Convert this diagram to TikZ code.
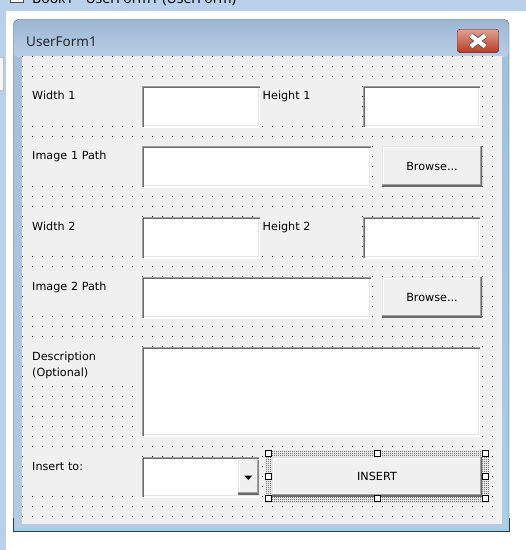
\documentclass[tikz,border=0pt]{standalone}
\usepackage{fontspec}
\setmainfont{DejaVu Sans}
\newfontfamily\captionfont{Noto Sans}
\usetikzlibrary{patterns}

\definecolor{deskblue}{HTML}{B9D1EA}
\definecolor{framebg}{HTML}{B4CBE4}
\definecolor{frametop}{HTML}{A3BCD8}
\definecolor{frameedge}{HTML}{2E3A46}
\definecolor{titletop}{HTML}{9CB6D3}
\definecolor{titlebot}{HTML}{B9CFE7}
\definecolor{formbg}{HTML}{F0F0F0}
\definecolor{shadowgray}{HTML}{A0A0A0}
\definecolor{darkgray}{HTML}{696969}
\definecolor{lightgray}{HTML}{E3E3E3}
\definecolor{closetop}{HTML}{E0A192}
\definecolor{closemid}{HTML}{CC6650}
\definecolor{closebot}{HTML}{B83A22}
\definecolor{closeedge}{HTML}{5E2218}
\definecolor{glowcyan}{HTML}{7FD8F0}

\pgfdeclarepatternformonly{selhatch}{\pgfpointorigin}{\pgfpoint{2pt}{2pt}}{\pgfpoint{2pt}{2pt}}{%
  \pgfpathrectangle{\pgfpointorigin}{\pgfpoint{1pt}{1pt}}%
  \pgfpathrectangle{\pgfpoint{1pt}{1pt}}{\pgfpoint{1pt}{1pt}}%
  \pgfusepath{fill}}

\begin{document}
\begin{tikzpicture}[x=1pt,y=-1pt,
    font=\fontsize{11.2}{16.5}\selectfont,
    lbl/.style={anchor=north west, fill=formbg, inner xsep=2pt, inner ysep=0pt,
      text width=#1, text height=17pt, text depth=23pt, align=left},
    lbl/.default=106pt,
    tbox/.style 2 args={anchor=north west, fill=white, inner sep=0pt, outer sep=0pt,
      minimum width=#1, minimum height=#2,
      path picture={
        \draw[line width=4pt, lightgray] (path picture bounding box.north east) -- (path picture bounding box.south east) -- (path picture bounding box.south west);
        \draw[line width=2pt, white] (path picture bounding box.north east) -- (path picture bounding box.south east) -- (path picture bounding box.south west);
        \draw[line width=4pt, darkgray] (path picture bounding box.south west) -- (path picture bounding box.north west) -- (path picture bounding box.north east);
        \draw[line width=2pt, shadowgray] (path picture bounding box.south west) -- (path picture bounding box.north west) -- (path picture bounding box.north east);
      }},
    rbtn/.style 2 args={anchor=north west, fill=formbg, inner sep=0pt, outer sep=0pt,
      minimum width=#1, minimum height=#2,
      path picture={
        \draw[line width=4pt, white] (path picture bounding box.south west) -- (path picture bounding box.north west) -- (path picture bounding box.north east);
        \draw[line width=2pt, lightgray] (path picture bounding box.south west) -- (path picture bounding box.north west) -- (path picture bounding box.north east);
        \draw[line width=4pt, shadowgray] (path picture bounding box.north east) -- (path picture bounding box.south east) -- (path picture bounding box.south west);
        \draw[line width=2pt, darkgray] (path picture bounding box.north east) -- (path picture bounding box.south east) -- (path picture bounding box.south west);
      }},
    handle/.style={draw=black, fill=white, line width=1pt, minimum size=6pt, inner sep=0pt}]

  \useasboundingbox (0,0) rectangle (526,550);

  %DESKTOP
  \fill[deskblue] (0,0) rectangle (526,550);
  \fill[white] (6,11) rectangle (526,550);
  \filldraw[fill=white!94!gray, draw=gray!50] (-1,57.5) rectangle (3.5,90.5);
  \filldraw[fill=white, draw=black!70] (10.5,-6) rectangle (23,2);
  \node[anchor=base west, inner sep=0pt, font=\captionfont\fontsize{14}{16}\selectfont] (apptitle) at (32,3.3) {Book1 - UserForm1 (UserForm)};

  %WINDOW FRAME
  \shade[top color=frametop, bottom color=framebg, draw=frameedge, rounded corners=5pt]
    (13.5,531) -- (13.5,19.5) -- (509,19.5) -- (509,531) -- cycle;
  \filldraw[fill=framebg, draw=frameedge] (13.5,518) -- (13.5,531) -- (509,531) -- (509,518);
  \draw[glowcyan] (14.5,529.5) -- (507.5,529.5) -- (507.5,24);
  \shade[top color=titletop, bottom color=titlebot, rounded corners=4pt] (14,20) rectangle (508.5,57);
  \node[anchor=base west, inner sep=0pt, text=black!85, font=\captionfont\fontsize{13.5}{16}\selectfont] (formtitle) at (26,46.7) {UserForm1};

  %CLOSE BUTTON
  \node[draw=closeedge, top color=closetop, middle color=closemid, bottom color=closebot,
    rounded corners=3pt, minimum width=41.5pt, minimum height=23.5pt, inner sep=0pt] (xbtn) at (478,41) {};
  \draw[line width=6pt, gray!70!black] (xbtn.center) ++(-7,-5.5) -- ++(14,11) (xbtn.center) ++(7,-5.5) -- ++(-14,11);
  \draw[line width=4.2pt, white] (xbtn.center) ++(-7,-5.5) -- ++(14,11) (xbtn.center) ++(7,-5.5) -- ++(-14,11);

  %CLIENT AREA AND GRID
  \fill[formbg] (22,56) rectangle (502,524);
  \foreach \i in {0,...,47}
    \foreach \j in {0,...,46}
      \fill (22+10*\i,56+10*\j) rectangle +(1,1);

  %LABELS
  \node[lbl] (w1lbl) at (30,82) {Width 1};
  \node[lbl=94pt] (h1lbl) at (260.5,82) {Height 1};
  \node[lbl] (p1lbl) at (30,142) {Image 1 Path};
  \node[lbl] (w2lbl) at (30,213) {Width 2};
  \node[lbl=94pt] (h2lbl) at (260.5,213) {Height 2};
  \node[lbl] (p2lbl) at (30,273) {Image 2 Path};
  \node[lbl] (desclbl) at (30,343) {Description\\(Optional)};
  \node[lbl] (inslbl) at (30,453) {Insert to:};

  %TEXT BOXES
  \node[tbox={118}{41}] (w1box) at (142,86) {};
  \node[tbox={117}{41}] (h1box) at (363,86) {};
  \node[tbox={229}{41}] (p1box) at (142,146) {};
  \node[tbox={118}{41}] (w2box) at (142,217) {};
  \node[tbox={117}{41}] (h2box) at (363,217) {};
  \node[tbox={229}{41}] (p2box) at (142,277) {};
  \node[tbox={338}{89}] (descbox) at (142,347) {};

  %BROWSE BUTTONS
  \node[rbtn={100}{40}] (b1btn) at (382,146) {Browse...};
  \node[rbtn={100}{40}] (b2btn) at (382,277) {Browse...};

  %COMBO BOX
  \node[tbox={117}{40}] (combo) at (142,457) {};
  \node[rbtn={20.5}{34}] (drop) at (238,460) {};
  \fill (drop.center) ++(-4,-1.5) -- ++(8,0) -- ++(-4,4.5) -- cycle;

  %SELECTED INSERT BUTTON
  \coordinate (selnw) at (265,450);
  \coordinate (selse) at (489,502);
  \fill[white] (selnw) rectangle (selse);
  \fill[pattern=selhatch, pattern color=black!80] (selnw) rectangle (selse);
  \node[rbtn={210}{39}] (insbtn) at (272,457) {INSERT};
  \foreach \hx/\hy [count=\k] in {268.5/453.5, 377/453.5, 485.5/453.5, 268.5/476,
                                  485.5/476, 268.5/498.5, 377/498.5, 485.5/498.5}
    \node[handle] (hdl\k) at (\hx,\hy) {};

\end{tikzpicture}
\end{document}
